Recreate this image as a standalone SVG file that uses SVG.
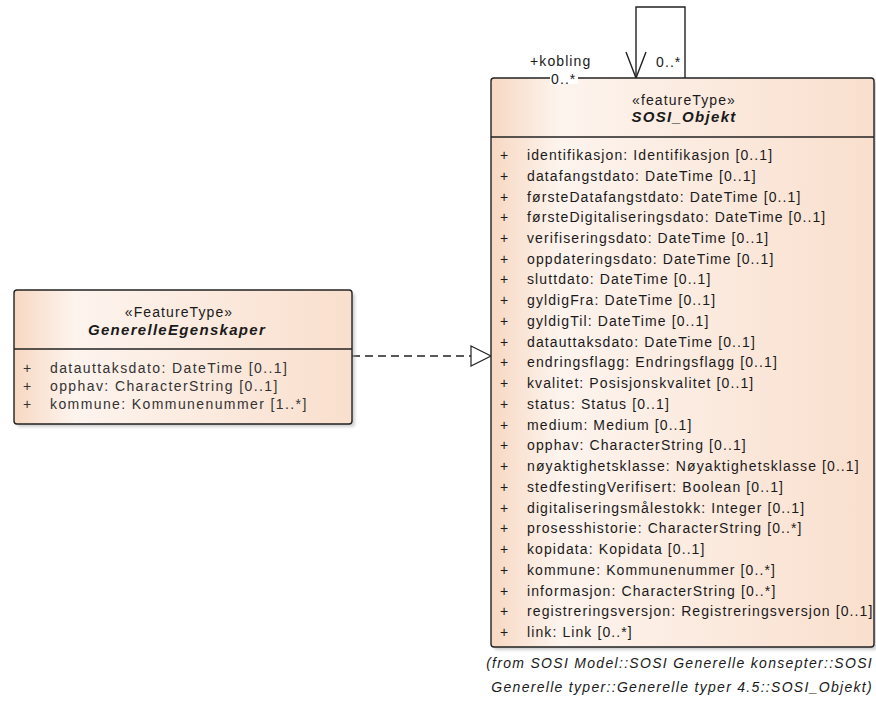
<svg xmlns="http://www.w3.org/2000/svg" width="876" height="702" viewBox="0 0 876 702">
<defs>
<linearGradient id="g" x1="0" y1="0" x2="1" y2="0">
<stop offset="0" stop-color="#F7D8C2"/>
<stop offset="0.18" stop-color="#FDF4EE"/>
<stop offset="1" stop-color="#F9DFCD"/>
</linearGradient>
<filter id="sh" x="-5%" y="-5%" width="110%" height="110%">
<feGaussianBlur stdDeviation="1.5"/>
</filter>
</defs>
<style>
text{font-family:"Liberation Sans",Arial,sans-serif;font-size:14px;letter-spacing:1.1px;fill:#1a1a1a}
.a{fill:#333}
.l{letter-spacing:1.4px}
.c{text-anchor:middle}
.b{font-weight:bold;font-style:italic;font-size:15px;letter-spacing:1.3px}
.i{font-style:italic;text-anchor:end;letter-spacing:1.3px}
.box{fill:url(#g);stroke:#222;stroke-width:1.4}
.shd{fill:#b0b0b0;opacity:0.6;filter:url(#sh)}
.ln{stroke:#222;stroke-width:1.4;fill:none}
</style>
<g id="connectors">
<path class="ln" d="M352,356 H471" stroke-dasharray="8,5"/>
<path d="M471,346 L491,356 L471,366 Z" fill="#fff" stroke="#222" stroke-width="1.2"/>
<path class="ln" d="M636,78 V7 H685 V78"/>
<path class="ln" d="M626,52 L636,78 L646,52"/>
<text x="530" y="66">+kobling</text>
<text x="656" y="67">0..*</text>
</g>
<g id="GenerelleEgenskaper">
<rect class="shd" x="17" y="293" width="338" height="134" rx="3"/>
<rect class="box" x="14" y="290" width="338" height="134" rx="3"/>
<line class="ln" x1="14" y1="349" x2="352" y2="349"/>
<text class="c" x="179" y="317">«FeatureType»</text>
<text class="c b" x="177" y="335">GenerelleEgenskaper</text>
<text class="a" x="23" y="373">+</text><text class="a l" x="50" y="373">datauttaksdato: DateTime [0..1]</text>
<text class="a" x="23" y="391">+</text><text class="a l" x="50" y="391">opphav: CharacterString [0..1]</text>
<text class="a" x="23" y="409">+</text><text class="a l" x="50" y="409">kommune: Kommunenummer [1..*]</text>
</g>
<g id="SOSI_Objekt">
<rect class="shd" x="494" y="81" width="383" height="569" rx="3"/>
<rect class="box" x="491" y="78" width="383" height="569" rx="3"/>
<line class="ln" x1="491" y1="137" x2="874" y2="137"/>
<rect x="550" y="72" width="28" height="12" fill="#fff"/>
<text x="551" y="84">0..*</text>
<text class="c" x="684" y="105">«featureType»</text>
<text class="c b" x="684" y="122">SOSI_Objekt</text>
<g class="a">
<text x="500" y="160">+</text><text x="527" y="160">identifikasjon: Identifikasjon [0..1]</text>
<text x="500" y="180.7">+</text><text x="527" y="180.7">datafangstdato: DateTime [0..1]</text>
<text x="500" y="201.5">+</text><text x="527" y="201.5">førsteDatafangstdato: DateTime [0..1]</text>
<text x="500" y="222.2">+</text><text x="527" y="222.2">førsteDigitaliseringsdato: DateTime [0..1]</text>
<text x="500" y="243">+</text><text x="527" y="243">verifiseringsdato: DateTime [0..1]</text>
<text x="500" y="263.7">+</text><text x="527" y="263.7">oppdateringsdato: DateTime [0..1]</text>
<text x="500" y="284.4">+</text><text x="527" y="284.4">sluttdato: DateTime [0..1]</text>
<text x="500" y="305.2">+</text><text x="527" y="305.2">gyldigFra: DateTime [0..1]</text>
<text x="500" y="325.9">+</text><text x="527" y="325.9">gyldigTil: DateTime [0..1]</text>
<text x="500" y="346.7">+</text><text x="527" y="346.7">datauttaksdato: DateTime [0..1]</text>
<text x="500" y="367.4">+</text><text x="527" y="367.4">endringsflagg: Endringsflagg [0..1]</text>
<text x="500" y="388.1">+</text><text x="527" y="388.1">kvalitet: Posisjonskvalitet [0..1]</text>
<text x="500" y="408.9">+</text><text x="527" y="408.9">status: Status [0..1]</text>
<text x="500" y="429.6">+</text><text x="527" y="429.6">medium: Medium [0..1]</text>
<text x="500" y="450.4">+</text><text x="527" y="450.4">opphav: CharacterString [0..1]</text>
<text x="500" y="471.1">+</text><text x="527" y="471.1">nøyaktighetsklasse: Nøyaktighetsklasse [0..1]</text>
<text x="500" y="491.8">+</text><text x="527" y="491.8">stedfestingVerifisert: Boolean [0..1]</text>
<text x="500" y="512.6">+</text><text x="527" y="512.6">digitaliseringsmålestokk: Integer [0..1]</text>
<text x="500" y="533.3">+</text><text x="527" y="533.3">prosesshistorie: CharacterString [0..*]</text>
<text x="500" y="554.1">+</text><text x="527" y="554.1">kopidata: Kopidata [0..1]</text>
<text x="500" y="574.8">+</text><text x="527" y="574.8">kommune: Kommunenummer [0..*]</text>
<text x="500" y="595.5">+</text><text x="527" y="595.5">informasjon: CharacterString [0..*]</text>
<text x="500" y="616.3">+</text><text x="527" y="616.3">registreringsversjon: Registreringsversjon [0..1]</text>
<text x="500" y="637">+</text><text x="527" y="637">link: Link [0..*]</text>
</g>
<text class="i" x="873" y="668">(from SOSI Model::SOSI Generelle konsepter::SOSI</text>
<text class="i" x="873" y="692">Generelle typer::Generelle typer 4.5::SOSI_Objekt)</text>
</g>
</svg>
